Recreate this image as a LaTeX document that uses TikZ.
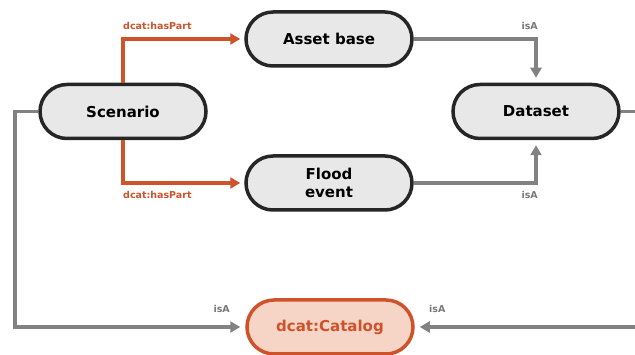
\documentclass[tikz,border=0pt]{standalone}
\usepackage{fontspec}
\setmainfont{DejaVu Sans}
\usetikzlibrary{arrows.meta}
\definecolor{rust}{RGB}{206,82,42}
\definecolor{pale}{RGB}{232,232,232}
\definecolor{wire}{RGB}{130,130,130}
\definecolor{wiretext}{RGB}{120,120,120}
\definecolor{catfill}{RGB}{246,212,198}
\tikzset{
  concept/.style={draw=black!85, line width=3.5pt, fill=pale, rounded corners=27pt,
    minimum width=166pt, minimum height=54pt, inner sep=0pt, align=center,
    font=\bfseries\fontsize{15}{18.5}\selectfont},
  catalog/.style={concept, draw=rust, fill=catfill, text=rust},
  part/.style={draw=rust, line width=3.2pt, -{Triangle[length=10pt,width=11pt]}, shorten >=4pt},
  isa/.style={draw=wire, line width=3.2pt, -{Triangle[length=10pt,width=11pt]}, shorten >=5pt},
  partlbl/.style={font=\bfseries\fontsize{9.5}{11}\selectfont, text=rust, inner sep=0pt},
  isalbl/.style={font=\bfseries\fontsize{9.5}{11}\selectfont, text=wiretext, inner sep=0pt},
}
\begin{document}
\begin{tikzpicture}[x=1pt, y=-1pt]
  \useasboundingbox (0,0) rectangle (635,355);
  \clip (0,0) rectangle (635,355);

  % concepts
  \node[concept] (scn) at (123,111.5) {Scenario};
  \node[concept] (asset) at (329,39) {Asset base};
  \node[concept] (flood) at (329,183) {Flood\\event};
  \node[concept] (data) at (536,111.5) {Dataset};
  \node[catalog] (cat) at (330,327) {dcat:Catalog};

  % free end outside the frame
  \coordinate (farright) at (645,111.5);

  % dcat:hasPart
  \draw[part] (scn.north) |- (asset.west);
  \draw[part] (scn.south) |- (flood.west);
  \node[partlbl, anchor=north west] (hp1) at (123,22) {dcat:hasPart};
  \node[partlbl, anchor=north west] (hp2) at (123,191) {dcat:hasPart};

  % isA towards Dataset
  \draw[isa] (asset.east) -| (data.north);
  \draw[isa] (flood.east) -| (data.south);
  \node[isalbl, anchor=north east] (i1) at (538,22) {isA};
  \node[isalbl, anchor=north east] (i2) at (538,191) {isA};

  % isA towards dcat:Catalog
  \draw[isa] (scn.west) -- (15,111.5) |- (cat.west);
  \draw[isa] (data.east) -- (farright) |- (cat.east);
  \node[isalbl, anchor=north east] (i3) at (230,305) {isA};
  \node[isalbl, anchor=north west] (i4) at (429,305) {isA};
\end{tikzpicture}
\end{document}
